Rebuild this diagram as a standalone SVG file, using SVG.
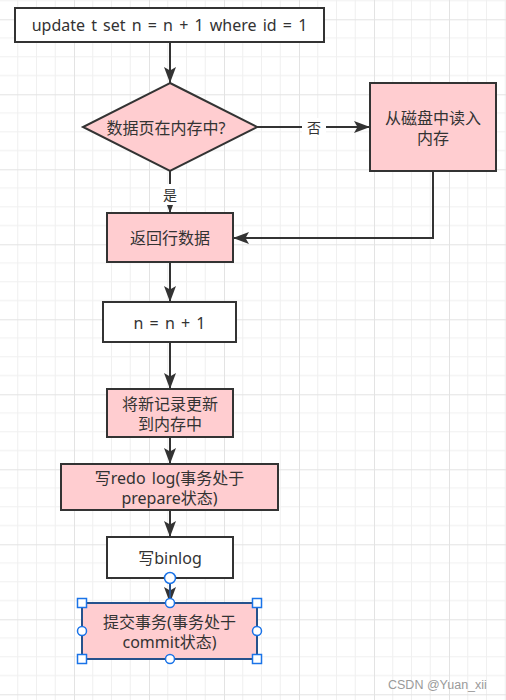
<svg xmlns="http://www.w3.org/2000/svg" width="506" height="700" viewBox="0 0 506 700">
<style>
.node{stroke:#333;stroke-width:2}
.pink{fill:#ffcdd0}
.white{fill:#fff}
.t{font-family:"Noto Sans","Noto Sans CJK SC",sans-serif;font-size:16px;fill:#333;text-anchor:middle;dominant-baseline:central;word-spacing:2px}
.edge{fill:none;stroke:#333;stroke-width:2}
.lbl{font-family:"Noto Sans","Noto Sans CJK SC",sans-serif;font-size:14px;fill:#333;text-anchor:middle;dominant-baseline:central}
.h{fill:#fff;stroke:#1a73e8;stroke-width:1.5}
</style>
<defs>
<pattern id="grid" patternUnits="userSpaceOnUse" x="-1" y="19.3" width="75" height="75">
<rect width="75" height="75" fill="#fff"/>
<path d="M18.75,0V75M37.5,0V75M56.25,0V75M0,18.75H75M0,37.5H75M0,56.25H75" stroke="#f0f0f0" stroke-width="1"/>
<path d="M0.5,0V75M0,0.5H75" stroke="#e3e3e3" stroke-width="1"/>
</pattern>
<marker id="arr" markerUnits="userSpaceOnUse" markerWidth="17" markerHeight="13" refX="16" refY="6.5" orient="auto">
<path d="M0,0.5 L16,6.5 L0,12.5 L3.5,6.5 Z" fill="#333"/>
</marker>
</defs>
<rect width="506" height="700" fill="url(#grid)"/>

<g id="connectors">
<path class="edge" d="M170,42 V83" marker-end="url(#arr)"/>
<path class="edge" d="M257,127 H370" marker-end="url(#arr)"/>
<rect x="302" y="118" width="24" height="19" fill="#fff"/>
<text class="lbl" x="314" y="127.5">否</text>
<path class="edge" d="M170,171 V213" marker-end="url(#arr)"/>
<rect x="161" y="184" width="18" height="21" fill="#fff"/>
<text class="lbl" x="170" y="194.5">是</text>
<path class="edge" d="M433,171 V238 H233" marker-end="url(#arr)"/>
<path class="edge" d="M170,262 V302" marker-end="url(#arr)"/>
<path class="edge" d="M170,342 V389" marker-end="url(#arr)"/>
<path class="edge" d="M170,437 V464" marker-end="url(#arr)"/>
<path class="edge" d="M170,510 V537" marker-end="url(#arr)"/>
<path class="edge" d="M170,578 V603" marker-end="url(#arr)"/>
</g>

<g id="n1">
<rect class="node white" x="15" y="8" width="309" height="34"/>
<text class="t" x="169.5" y="25">update t set n = n + 1 where id = 1</text>
</g>
<g id="n2">
<path class="node pink" d="M170,83 L257,127 L170,171 L83,127 Z"/>
<text class="t" x="166" y="127.5">数据页在内存中?</text>
</g>
<g id="n3">
<rect class="node pink" x="370" y="83" width="126" height="88"/>
<text class="t" x="433" y="118">从磁盘中读入</text>
<text class="t" x="433" y="138">内存</text>
</g>
<g id="n4">
<rect class="node pink" x="107" y="213" width="126" height="49"/>
<text class="t" x="170" y="238">返回行数据</text>
</g>
<g id="n5">
<rect class="node white" x="103" y="302" width="133" height="40"/>
<text class="t" x="169.5" y="322.5">n = n + 1</text>
</g>
<g id="n6">
<rect class="node pink" x="107" y="389" width="126" height="48"/>
<text class="t" x="170" y="403.5">将新记录更新</text>
<text class="t" x="170" y="423.5">到内存中</text>
</g>
<g id="n7">
<rect class="node pink" x="61" y="464" width="217" height="46"/>
<text class="t" x="169.5" y="477.5">写redo log(事务处于</text>
<text class="t" x="169.5" y="497.5">prepare状态)</text>
</g>
<g id="n8">
<rect class="node white" x="107" y="537" width="126" height="41"/>
<text class="t" x="170" y="558">写binlog</text>
</g>
<g id="n9">
<rect class="node pink" x="82" y="603" width="175" height="56"/>
<text class="t" x="169.5" y="621.5">提交事务(事务处于</text>
<text class="t" x="169.5" y="641.5">commit状态)</text>
</g>

<g id="selection">
<path d="M170,578 V603" stroke="#1a73e8" stroke-width="1"/>
<rect x="82" y="603" width="175" height="56" fill="none" stroke="#1a73e8" stroke-width="1"/>
<circle class="h" cx="170" cy="578" r="5.5"/>
<rect class="h" x="77.5" y="598.5" width="9" height="9"/>
<rect class="h" x="252.5" y="598.5" width="9" height="9"/>
<rect class="h" x="77.5" y="654.5" width="9" height="9"/>
<rect class="h" x="252.5" y="654.5" width="9" height="9"/>
<circle class="h" cx="170" cy="603" r="4.5"/>
<circle class="h" cx="82" cy="631" r="4.5"/>
<circle class="h" cx="257" cy="631" r="4.5"/>
<circle class="h" cx="170" cy="659" r="4.5"/>
</g>

<text x="388" y="689" font-family="Liberation Sans, sans-serif" font-size="12.5" fill="#9a9a9a">CSDN @Yuan_xii</text>
</svg>
